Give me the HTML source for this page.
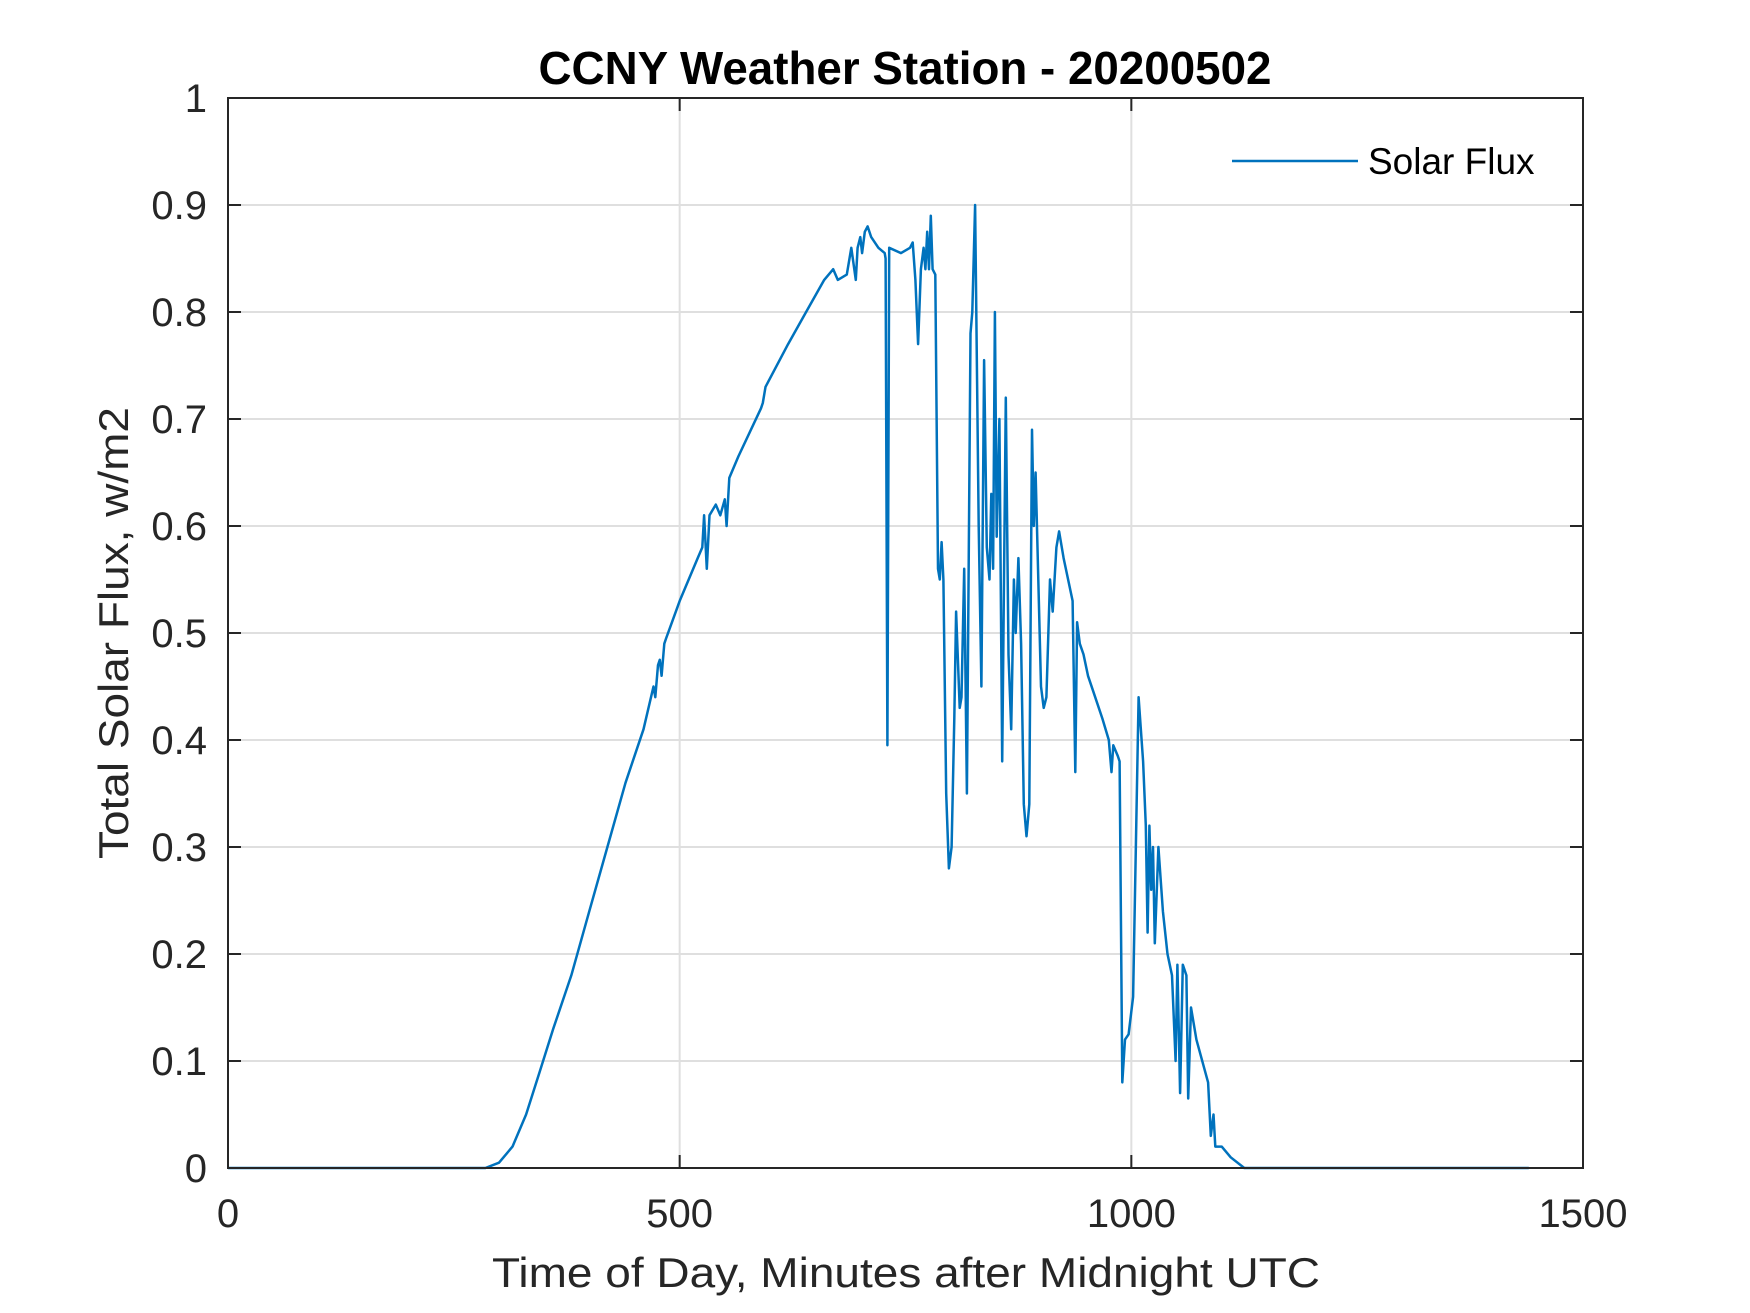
<!DOCTYPE html>
<html><head><meta charset="utf-8"><style>
html,body{margin:0;padding:0;background:#fff;}
svg{display:block;font-family:"Liberation Sans",Arial,sans-serif;}
</style></head><body>
<svg id="chart" width="1750" height="1313" viewBox="0 0 1750 1313" xmlns="http://www.w3.org/2000/svg">
<rect width="1750" height="1313" fill="#fff"/>
<g id="grid"></g>
<g id="series"></g>
<g id="axes"></g>
<text x="905" y="84" text-anchor="middle" font-size="46" font-weight="bold" fill="#000" textLength="733" lengthAdjust="spacingAndGlyphs">CCNY Weather Station - 20200502</text>
<text x="906" y="1287" text-anchor="middle" font-size="42" fill="#262626" textLength="828" lengthAdjust="spacingAndGlyphs">Time of Day, Minutes after Midnight UTC</text>
<text transform="translate(128,633) rotate(-90)" text-anchor="middle" font-size="42" fill="#262626" textLength="452" lengthAdjust="spacingAndGlyphs">Total Solar Flux, w/m2</text>
<g>
<line x1="1232" y1="161" x2="1358" y2="161" stroke="#0072BD" stroke-width="2.5"/>
<text x="1368" y="174" font-size="37" fill="#000">Solar Flux</text>
</g>
</svg>
<script>
const minutes = [0,285,300,315,330,345,360,380,400,420,440,460,471,473,476,478,480,483,485,500,520,525,527,530,533,540,545,550,552,555,565,590,592,595,620,640,660,670,675,685,690,695,697,700,702,705,708,712,720,727,728,730,732,745,755,758,761,764,767,770,772,774,776,778,780,783,786,788,790,792,795,798,801,804,806,810,812,815,818,822,824,827,831,834,837,840,843,845,847,849,851,854,857,861,864,867,870,872,875,878,881,884,887,890,892,894,897,900,903,906,910,913,917,920,925,930,935,938,940,943,947,952,958,968,975,978,980,985,987,990,993,997,1002,1008,1013,1016,1018,1020,1022,1024,1026,1030,1035,1040,1045,1049,1051,1054,1057,1061,1063,1066,1072,1085,1088,1091,1093,1100,1110,1125,1440];
const flux = [0,0,0.005,0.02,0.05,0.09,0.13,0.18,0.24,0.30,0.36,0.41,0.45,0.44,0.47,0.475,0.46,0.49,0.495,0.53,0.57,0.58,0.61,0.56,0.61,0.62,0.61,0.625,0.60,0.645,0.665,0.71,0.715,0.73,0.77,0.80,0.83,0.84,0.83,0.835,0.86,0.83,0.86,0.87,0.855,0.875,0.88,0.87,0.86,0.855,0.85,0.395,0.86,0.855,0.86,0.865,0.83,0.77,0.84,0.86,0.84,0.875,0.84,0.89,0.84,0.835,0.56,0.55,0.585,0.55,0.35,0.28,0.30,0.42,0.52,0.43,0.44,0.56,0.35,0.78,0.80,0.90,0.60,0.45,0.755,0.58,0.55,0.63,0.56,0.80,0.59,0.70,0.38,0.72,0.48,0.41,0.55,0.50,0.57,0.49,0.34,0.31,0.34,0.69,0.60,0.65,0.55,0.45,0.43,0.44,0.55,0.52,0.58,0.595,0.57,0.55,0.53,0.37,0.51,0.49,0.48,0.46,0.445,0.42,0.40,0.37,0.395,0.385,0.38,0.08,0.12,0.125,0.16,0.44,0.38,0.32,0.22,0.32,0.26,0.30,0.21,0.30,0.24,0.20,0.18,0.10,0.19,0.07,0.19,0.18,0.065,0.15,0.12,0.08,0.03,0.05,0.02,0.02,0.01,0,0];
const xTicks = [0,500,1000,1500];
const xTickLabels = ["0","500","1000","1500"];
const yTicks = [0,0.1,0.2,0.3,0.4,0.5,0.6,0.7,0.8,0.9,1];
const yTickLabels = ["0","0.1","0.2","0.3","0.4","0.5","0.6","0.7","0.8","0.9","1"];

const L=228,R=1583,T=98,B=1168;
const X0=0,X1=1500,Y0=0,Y1=1;
function sx(v){return L+(v-X0)/(X1-X0)*(R-L);}
function sy(v){return B-(v-Y0)/(Y1-Y0)*(B-T);}
const NS="http://www.w3.org/2000/svg";
function mk(tag,attrs,parent){const e=document.createElementNS(NS,tag);for(const k in attrs)e.setAttribute(k,attrs[k]);parent.appendChild(e);return e;}
const grid=document.getElementById('grid'),axes=document.getElementById('axes'),series=document.getElementById('series');

xTicks.forEach((t,i)=>{
  const x=sx(t);
  if(i>0&&i<xTicks.length-1){
    const g=mk('line',{x1:x,y1:T,x2:x,y2:B,stroke:'#dfdfdf','stroke-width':2},grid);
    
    
  }
  const a=mk('line',{x1:x,y1:B,x2:x,y2:B-13,stroke:'#262626','stroke-width':2},axes);
  
  
  const b=mk('line',{x1:x,y1:T,x2:x,y2:T+13,stroke:'#262626','stroke-width':2},axes);
  
  
  const tx=mk('text',{x:x,y:1227,'text-anchor':'middle','font-size':40,fill:'#262626'},axes);
  tx.textContent=xTickLabels[i];
  
  
});
yTicks.forEach((t,i)=>{
  const y=sy(t);
  if(i>0&&i<yTicks.length-1){
    const g=mk('line',{x1:L,y1:y,x2:R,y2:y,stroke:'#dfdfdf','stroke-width':2},grid);
    
    
  }
  const a=mk('line',{x1:L,y1:y,x2:L+13,y2:y,stroke:'#262626','stroke-width':2},axes);
  
  
  const b=mk('line',{x1:R,y1:y,x2:R-13,y2:y,stroke:'#262626','stroke-width':2},axes);
  
  
  const tx=mk('text',{x:207,y:y+14,'text-anchor':'end','font-size':40,fill:'#262626'},axes);
  tx.textContent=yTickLabels[i];
  
  
});
const box=mk('rect',{x:L,y:T,width:R-L,height:B-T,fill:'none',stroke:'#262626','stroke-width':2},axes);



let d='';
minutes.forEach((m,i)=>{d+=(i?'L':'M')+sx(m).toFixed(1)+','+sy(flux[i]).toFixed(1);});
const p=mk('path',{d:d,fill:'none',stroke:'#0072BD','stroke-width':2.5,'stroke-linejoin':'round'},series);


</script>
</body></html>
